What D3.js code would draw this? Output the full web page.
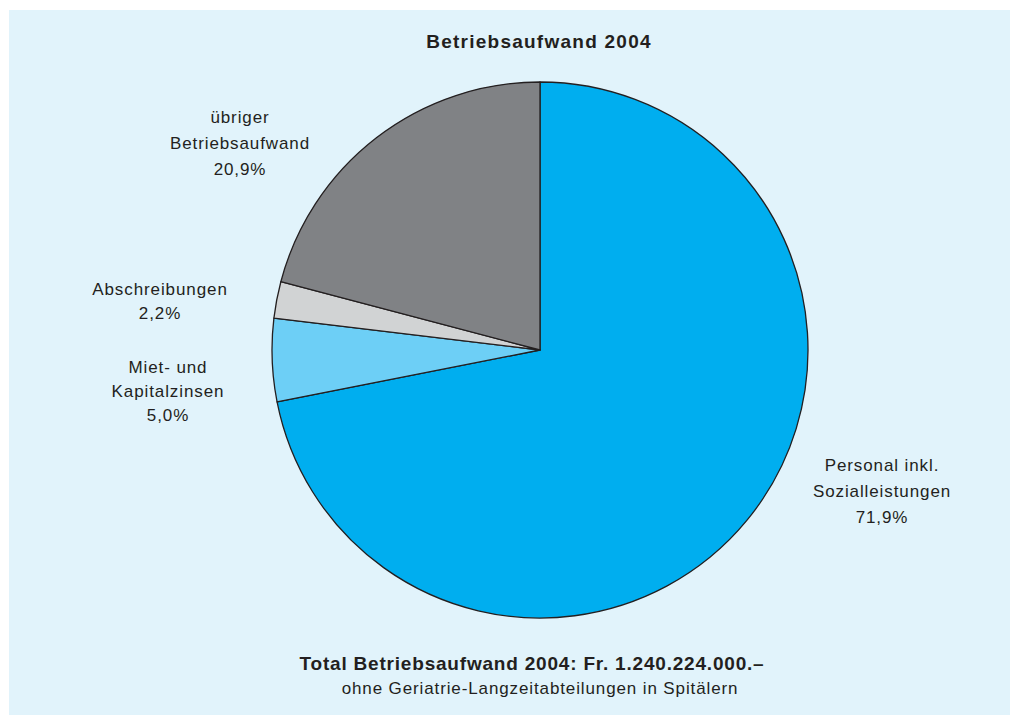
<!DOCTYPE html>
<html>
<head>
<meta charset="utf-8">
<script src="https://cdn.jsdelivr.net/npm/d3@7"></script>
<style>
  body { margin: 0; background: #fff; }
  svg text { font-family: "Liberation Sans", Arial, Helvetica, sans-serif; fill: #231f20; }
</style>
</head>
<body>
<svg id="chart" width="1010" height="715"></svg>
<script>
/*** DATA ***/
const categories = ['Personal inkl. Sozialleistungen', 'Miet- und Kapitalzinsen', 'Abschreibungen', 'übriger Betriebsaufwand'];
const shares = [71.9, 5.0, 2.2, 20.9];
const shareLabels = ['71,9%', '5,0%', '2,2%', '20,9%'];
const labelLines = [['Personal inkl.', 'Sozialleistungen'], ['Miet- und', 'Kapitalzinsen'], ['Abschreibungen'], ['übriger', 'Betriebsaufwand']];
const title = 'Betriebsaufwand 2004';
const footer = ['Total Betriebsaufwand 2004: Fr. 1.240.224.000.–', 'ohne Geriatrie-Langzeitabteilungen in Spitälern'];

/*** LAYOUT ***/
const W = 1010, H = 715;
const cx = 540, cy = 350, radius = 268;
const colors = ['#00aeef', '#6dcff6', '#d1d3d4', '#808285'];
// label anchor (centre of first line) per slice, and line spacing
const labelPos = [[882, 465, 26], [168, 367, 24], [160, 289, 24], [240, 117, 26]];

const svg = d3.select('#chart');

svg.append('rect')
   .attr('x', 9).attr('y', 10)
   .attr('width', W - 9).attr('height', H - 10)
   .attr('fill', '#e1f3fb');

svg.append('text')
   .attr('x', 539).attr('y', 48)
   .attr('text-anchor', 'middle')
   .attr('font-size', 19).attr('font-weight', 'bold')
   .attr('letter-spacing', 1.25)
   .text(title);

/*** PIE ***/
const pie = d3.pie().sort(null).value(d => d);
const arc = d3.arc().innerRadius(0).outerRadius(radius);

const g = svg.append('g').attr('transform', `translate(${cx},${cy})`);
g.selectAll('path')
  .data(pie(shares))
  .enter().append('path')
    .attr('d', arc)
    .attr('fill', (d, i) => colors[i])
    .attr('stroke', '#231f20')
    .attr('stroke-width', 1.3)
    .attr('stroke-linejoin', 'round');

/*** LABELS ***/
categories.forEach((c, i) => {
  const [x, y, dy] = labelPos[i];
  const t = svg.append('text')
      .attr('text-anchor', 'middle')
      .attr('font-size', 17)
      .attr('letter-spacing', 0.9);
  labelLines[i].concat([shareLabels[i]]).forEach((line, j) => {
    t.append('tspan').attr('x', x).attr('y', y + j * dy + 6).text(line);
  });
});

/*** FOOTER ***/
svg.append('text')
   .attr('x', 532).attr('y', 670)
   .attr('text-anchor', 'middle')
   .attr('font-size', 19).attr('font-weight', 'bold')
   .attr('letter-spacing', 0.8)
   .text(footer[0]);
svg.append('text')
   .attr('x', 540).attr('y', 694)
   .attr('text-anchor', 'middle')
   .attr('font-size', 17)
   .attr('letter-spacing', 0.88)
   .text(footer[1]);
</script>
</body>
</html>
